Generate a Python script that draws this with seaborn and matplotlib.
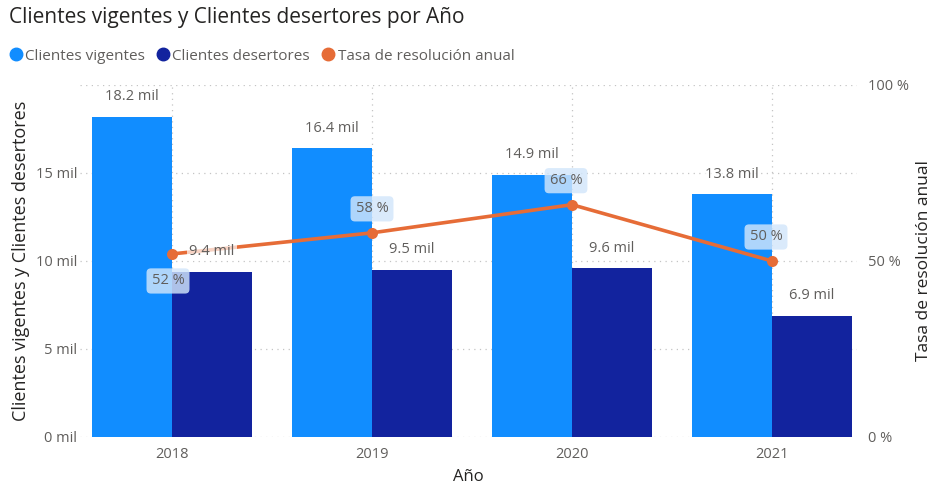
import matplotlib
matplotlib.use("Agg")
import matplotlib.pyplot as plt
from matplotlib.lines import Line2D
import numpy as np
import pandas as pd
import seaborn as sns

# Datos
anios = ["2018", "2019", "2020", "2021"]
clientes_vigentes = [18200, 16400, 14900, 13800]
clientes_desertores = [9400, 9500, 9600, 6900]
tasa_resolucion = [52, 58, 66, 50]

serie_vig = "Clientes vigentes"
serie_des = "Clientes desertores"
serie_tasa = "Tasa de resolución anual"

c_vig = "#118DFF"
c_des = "#12239E"
c_tasa = "#E66C37"
c_texto = "#252423"
c_gris = "#605E5C"

sns.set_theme(style="white")
plt.rcParams["font.family"] = ["Open Sans", "DejaVu Sans"]

df = pd.DataFrame({
    "Año": anios * 2,
    "valor": clientes_vigentes + clientes_desertores,
    "serie": [serie_vig] * len(anios) + [serie_des] * len(anios),
})
df_tasa = pd.DataFrame({"Año": anios, "tasa": tasa_resolucion})

fig = plt.figure(figsize=(9.35, 4.87), dpi=100)
ax = fig.add_axes([80 / 935, 50 / 487, 777 / 935, 352 / 487])
xlim = (-0.46, 3.425)

sns.barplot(data=df, x="Año", y="valor", hue="serie", order=anios,
            hue_order=[serie_vig, serie_des],
            palette=[c_vig, c_des], saturation=1, width=0.8, ax=ax,
            legend=False, zorder=2, linewidth=0)

ax.set_ylim(0, 20000)
ax.set_yticks([0, 5000, 10000, 15000, 20000])
ax.set_yticklabels(["0 mil", "5 mil", "10 mil", "15 mil", ""])
ax.set_xlim(*xlim)
ax.grid(True, axis="both", linestyle=(0, (1, 3.5)), color="#c4c4c4", linewidth=0.9, zorder=0)
ax.set_axisbelow(True)
for s in ax.spines.values():
    s.set_visible(False)
ax.tick_params(axis="both", length=0, colors=c_gris, labelsize=10.5)
ax.tick_params(axis="y", pad=2)
ax.tick_params(axis="x", pad=7)
ax.set_ylabel("Clientes vigentes y Clientes desertores", fontsize=13, color=c_texto, labelpad=4)
ax.set_xlabel("Año", fontsize=12, color=c_texto, labelpad=5)

ax2 = ax.twinx()
sns.pointplot(data=df_tasa, x="Año", y="tasa", order=anios, color=c_tasa,
              markers="o", markersize=6, linewidth=2.6, ax=ax2)
ax2.set_ylim(0, 100)
ax2.set_xlim(*xlim)
ax2.set_yticks([0, 50, 100])
ax2.set_yticklabels(["0 %", "50 %", "100 %"])
ax2.tick_params(axis="y", length=0, colors=c_gris, labelsize=10.5, pad=8)
ax2.set_ylabel("Tasa de resolución anual", fontsize=12.5, color=c_texto, labelpad=5)
ax2.set_xlabel("")
for s in ax2.spines.values():
    s.set_visible(False)

# Etiquetas de valor de las barras (dibujadas encima de la línea)
for cont in ax.containers:
    for bar in cont:
        h = bar.get_height()
        xc = bar.get_x() + bar.get_width() / 2
        ax2.annotate(f"{h / 1000:.1f} mil", xy=(xc, h), xycoords=ax.transData,
                     xytext=(0, 9), textcoords="offset points", ha="center", va="bottom",
                     fontsize=10.5, color=c_gris, zorder=5,
                     bbox=dict(boxstyle="square,pad=0.15", facecolor="white",
                               edgecolor="none", alpha=0.7))

# Etiquetas de la tasa
offsets = [(-4, -27), (0, 24), (-6, 24), (-6, 24)]
for i, t in enumerate(tasa_resolucion):
    dx, dy = offsets[i]
    ax2.annotate(f"{t} %", xy=(i, t), xytext=(dx, dy), textcoords="offset pixels",
                 ha="center", va="center", fontsize=10.5, color=c_gris, zorder=6,
                 bbox=dict(boxstyle="round,pad=0.35,rounding_size=0.3",
                           facecolor="#d2e6fb", edgecolor="none", alpha=0.82))

fig.text(9 / 935, 1 - 18 / 487, "Clientes vigentes y Clientes desertores por Año",
         fontsize=15, color=c_texto, va="center", ha="left")

handles = [
    Line2D([], [], marker="o", linestyle="none", markersize=9, color=c_vig),
    Line2D([], [], marker="o", linestyle="none", markersize=9, color=c_des),
    Line2D([], [], marker="o", linestyle="none", markersize=9, color=c_tasa),
]
fig.legend(handles, [serie_vig, serie_des, serie_tasa], loc="center left",
           bbox_to_anchor=(-7 / 935, 1 - 56 / 487), ncol=3, frameon=False,
           handletextpad=0.0, columnspacing=0.6, fontsize=11, labelcolor=c_gris,
           handlelength=1.2)

fig.savefig("out.png", dpi=100)
